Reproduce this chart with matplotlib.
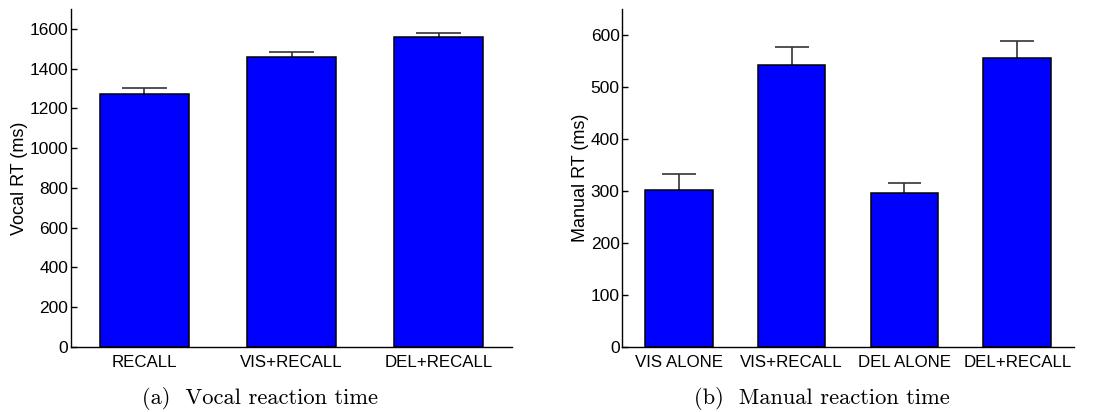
import matplotlib
matplotlib.use("Agg")
import matplotlib.pyplot as plt

# Vocal reaction time
vocal_labels = ["RECALL", "VIS+RECALL", "DEL+RECALL"]
vocal_means = [1273, 1456, 1559]
vocal_err = [30, 28, 22]

# Manual reaction time
manual_labels = ["VIS ALONE", "VIS+RECALL", "DEL ALONE", "DEL+RECALL"]
manual_means = [301, 543, 296, 556]
manual_err = [32, 34, 19, 33]

plt.rcParams["font.family"] = ["Liberation Sans", "DejaVu Sans"]

fig = plt.figure(figsize=(11.04, 4.12), dpi=100)
ax1 = fig.add_axes([0.0643, 0.1578, 0.3995, 0.8204])
ax2 = fig.add_axes([0.5637, 0.1578, 0.4089, 0.8204])


def draw(ax, labels, means, errs, ylim, yticks, ylabel):
    x = list(range(1, len(labels) + 1))
    ax.bar(x, means, width=0.6, color="#0000ff", edgecolor="black",
           linewidth=1.1, zorder=2)
    ax.errorbar(x, means, yerr=[[0] * len(errs), errs], fmt="none",
                ecolor="#333333", elinewidth=1.2, capsize=0, zorder=1)
    # caps drawn as short horizontal segments
    ax.hlines([m + e for m, e in zip(means, errs)],
              [xi - 0.15 for xi in x], [xi + 0.15 for xi in x],
              colors="#333333", linewidth=1.2, zorder=1)
    ax.set_xlim(0.5, len(labels) + 0.5)
    ax.set_ylim(*ylim)
    ax.set_xticks(x)
    ax.set_xticklabels(labels, fontsize=12.2)
    ax.set_yticks(yticks)
    ax.tick_params(axis="y", direction="in", length=4, width=1,
                   labelsize=12.5, pad=2)
    ax.tick_params(axis="x", length=0, labelsize=12.2, pad=6)
    ax.set_ylabel(ylabel, fontsize=13, labelpad=1)
    for s in ("top", "right"):
        ax.spines[s].set_visible(False)
    for s in ("left", "bottom"):
        ax.spines[s].set_linewidth(1.0)


draw(ax1, vocal_labels, vocal_means, vocal_err, (0, 1700),
     range(0, 1601, 200), "Vocal RT (ms)")
draw(ax2, manual_labels, manual_means, manual_err, (0, 650),
     range(0, 601, 100), "Manual RT (ms)")

fig.text(260 / 1104, 1 - 398 / 412, "(a)  Vocal reaction time",
         family="cmr10", fontsize=16.2, ha="center", va="center")
fig.text(822 / 1104, 1 - 398 / 412, "(b)  Manual reaction time",
         family="cmr10", fontsize=16.2, ha="center", va="center")

fig.savefig("out.png", dpi=100)
